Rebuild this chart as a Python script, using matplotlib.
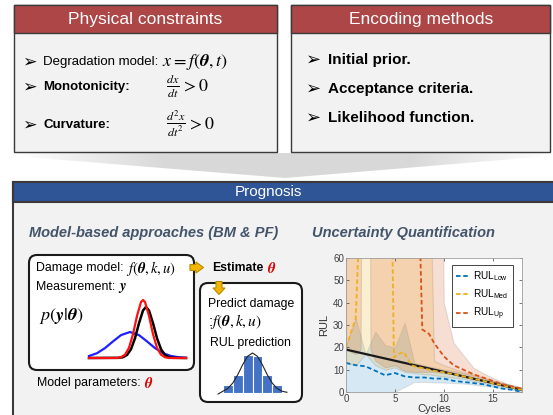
import numpy as np
import matplotlib.pyplot as plt
from matplotlib.patches import Rectangle, FancyBboxPatch, Polygon
from matplotlib.font_manager import FontProperties

plt.rcParams['mathtext.fontset'] = 'stix'
plt.rcParams['font.family'] = ['Liberation Sans', 'DejaVu Sans']

W, H = 553, 415

# ---- RUL chart data ----
cycles = list(range(19))
truth_x = [0, 18]
truth_y = [19, 1]
rul_low = [13, 12, 11.5, 9.5, 7.5, 8.5, 7, 6.5, 6.5, 6, 6, 5, 4.5, 4, 3.5, 2.5, 1.5, 1, 0]
med_x = [0, 1, 1.4, 4.7, 4.9, 5.4, 5.9, 6.7, 7, 8, 9, 10, 11, 12, 13, 14, 15, 16, 17, 18]
rul_med = [20, 33, 80, 80, 15.5, 17, 18, 12, 11.5, 10.5, 9.5, 8.8, 8, 7, 6, 5, 4, 3, 2, 1]
up_x = [7.5, 7.8, 8.5, 9, 10, 11, 12, 13, 14, 15, 16, 17, 18]
rul_up = [80, 28, 26, 22, 16, 12, 10, 8, 6.5, 5, 3.5, 2.5, 1.5]

low_band_lo = [0, 0, 0, 0, 0, 0, 2.3, 4.5, 4.5, 4.3, 4.2, 4, 3.8, 3.3, 2.8, 2.3, 1.7, 1, 0.3]
low_band_hi = [21, 33, 17, 27, 21, 20, 31, 13, 12, 11, 10, 9.5, 8.5, 7.5, 6.5, 5, 4, 3, 2]

med_band_x = [0, 1, 2, 3, 4, 5, 6, 7, 8, 8.7, 9, 10, 11, 12, 13, 14, 15, 16, 17, 18]
med_band_lo = [13, 12, 17, 12, 10, 11, 9, 8.5, 8, 7.8, 7.5, 7, 6.5, 6, 5, 4, 3.2, 2.4, 1.6, 0.8]
med_band_hi = [75, 75, 75, 75, 75, 75, 75, 75, 75, 75, 14, 12, 10.5, 9, 8, 6.5, 5.2, 4, 3, 2]

up_band_x = [0, 1, 1.5, 1.55, 2.45, 2.5, 3, 4, 5, 6, 7, 8, 9, 9.9, 10, 11, 12, 13, 14, 15, 16, 17, 18]
up_band_lo = [19, 17, 19, 75, 75, 19, 14, 11, 12, 9.5, 9, 9, 9, 8.5, 8.5, 8, 7, 6, 5, 4, 3, 2, 1.5]
up_band_hi = [75, 75, 75, 75, 75, 75, 75, 75, 75, 75, 75, 75, 75, 75, 40, 22, 16.5, 11, 8.5, 6.3, 4.5, 2.7, 1.5]

# ---- likelihood sketch ----
blue_x = [0, 8, 16, 24, 32, 41, 50, 58, 66, 74, 82, 90, 97]
blue_y = [2, 4.8, 9.9, 16.6, 22.9, 26, 22.9, 16.6, 9.9, 4.8, 2, 0.7, 0.2]
red_x = [0, 28, 32, 36, 40, 44, 48, 52, 54, 56, 60, 64, 68, 72, 76, 80, 97]
red_y = [0, 0, 0.8, 3.3, 10.2, 23.8, 42.1, 56, 58, 56, 42.1, 23.8, 10.2, 3.3, 0.8, 0, 0]
black_x = [0, 30, 34, 38, 42, 46, 50, 54, 57, 60, 64, 68, 72, 76, 80, 84, 97]
black_y = [0, 0.2, 0.8, 3, 8.8, 19.8, 34.8, 47.5, 51, 47.5, 34.8, 19.8, 8.8, 3, 0.8, 0.2, 0]

# ---- RUL histogram sketch ----
hist_bins = [0, 1, 2, 3, 4, 5]
hist_counts = [7.7, 18, 38, 37, 18, 7.7]
fit_x = [-1.0, -0.5, 0, 0.5, 1, 1.5, 2, 2.5, 3, 3.5, 4, 4.5, 5, 5.5, 6]
fit_y = [-1, 1.8, 4.6, 10, 18.3, 28.3, 36.7, 40, 36.7, 28.3, 18.3, 10, 4.6, 1.8, 0.7]


def px_axes(x0, y0, x1, y1):
    return fig.add_axes([x0 / W, 1 - y1 / H, (x1 - x0) / W, (y1 - y0) / H])


fig = plt.figure(figsize=(W / 100, H / 100), dpi=100)
ax = fig.add_axes([0, 0, 1, 1])
ax.axis('off')
renderer = fig.canvas.get_renderer()

# grey chevron between the top boxes and the prognosis box
chev = Polygon([(14, 153), (550, 153), (550, 156), (285, 178), (14, 156)],
               closed=True, facecolor='none', edgecolor='none')
ax.add_patch(chev)
xs = np.linspace(0, 536, 300)
alpha = np.clip(np.minimum(xs / 150, (536 - xs) / 140), 0, 1)
img = np.zeros((1, 300, 4))
img[..., :3] = 0.85
img[0, :, 3] = alpha
im = ax.imshow(img, extent=(14, 550, 178, 153), aspect='auto', zorder=0.5)
im.set_clip_path(chev)
ax.set_xlim(0, W)
ax.set_ylim(H, 0)


def header_box(x0, y0, w, h, hh, color, lw=1.0):
    ax.add_patch(Rectangle((x0, y0), w, h, facecolor='#f2f2f2', edgecolor='#3a3a3a', lw=lw, zorder=1))
    ax.add_patch(Rectangle((x0, y0), w, hh, facecolor=color, edgecolor='#3a3a3a', lw=lw, zorder=2))


def chain(t, y, s, gap=3, **kw):
    # put a text right after another one
    bb = t.get_window_extent(renderer)
    x = ax.transData.inverted().transform((bb.x1, 0))[0]
    return ax.text(x + gap, y, s, va='center', zorder=4, **kw)


header_box(14, 5, 263, 147, 28, '#ad4647')
ax.text(145, 19.5, 'Physical constraints', color='white', fontsize=12.5, ha='center', va='center', zorder=3)
header_box(291, 5, 259, 147, 28, '#ad4647')
ax.text(421, 19.5, 'Encoding methods', color='white', fontsize=12.5, ha='center', va='center', zorder=3)

# left box contents
for yy in [62, 87, 125]:
    ax.text(22, yy, '➢', fontsize=12.5, va='center', zorder=3)
ax.text(43, 62, 'Degradation model:', fontsize=9.5, va='center', zorder=3)
ax.text(162, 62, r'$x = f(\boldsymbol{\theta},t)$', fontsize=13, va='center', zorder=3)
ax.text(43, 87, 'Monotonicity:', fontsize=9.5, weight='bold', va='center', zorder=3)
t = ax.text(166, 86, r'$\frac{dx}{dt}$', fontsize=12.5, va='center', zorder=3)
chain(t, 86, r'$> 0$', gap=1, fontsize=13)
ax.text(43, 125, 'Curvature:', fontsize=9.5, weight='bold', va='center', zorder=3)
t = ax.text(166, 124, r'$\frac{d^2x}{dt^2}$', fontsize=12.5, va='center', zorder=3)
chain(t, 124, r'$> 0$', gap=1, fontsize=13)

# right box contents
for yy, s in zip([60, 89, 118], ['Initial prior.', 'Acceptance criteria.', 'Likelihood function.']):
    ax.text(306, yy, '➢', fontsize=13, va='center', zorder=3)
    ax.text(328, yy, s, fontsize=11, weight='bold', va='center', zorder=3)

# prognosis box
header_box(13, 182, 600, 300, 20, '#2f5597', lw=1.5)
ax.text(268, 192, 'Prognosis', color='white', fontsize=11, ha='center', va='center', zorder=3)
ax.text(29, 233, 'Model-based approaches (BM & PF)', fontsize=10.5, style='italic', weight='bold',
        color='#44546a', va='center', zorder=3)
ax.text(312, 233, 'Uncertainty Quantification', fontsize=10.5, style='italic', weight='bold',
        color='#44546a', va='center', zorder=3)

# model box
ax.add_patch(FancyBboxPatch((29, 255), 165, 115, boxstyle='round,pad=0,rounding_size=8',
                            facecolor='white', edgecolor='#1a1a1a', lw=1.5, zorder=3))
t = ax.text(36, 268, 'Damage model:', fontsize=8.9, va='center', zorder=4)
chain(t, 268, r'$f(\boldsymbol{\theta},k,u)$', fontsize=10.5)
t = ax.text(36, 287, 'Measurement:', fontsize=8.9, va='center', zorder=4)
chain(t, 288, r'$\boldsymbol{y}$', fontsize=10.5)
ax.text(39, 316, r'$p(\boldsymbol{y}|\boldsymbol{\theta})$', fontsize=13, va='center', zorder=4)
t = ax.text(37, 383, 'Model parameters:', fontsize=8.9, va='center', zorder=4)
chain(t, 383, r'$\boldsymbol{\theta}$', fontsize=10.5, color='#e00000')

# yellow arrows
arrow_kw = dict(closed=True, facecolor='#f2b600', edgecolor='#b88a00', lw=0.8, zorder=4)
ax.add_patch(Polygon([(190, 264.5), (196, 264.5), (196, 262), (203.5, 267.5), (196, 273),
                      (196, 270.5), (190, 270.5)], **arrow_kw))
ax.add_patch(Polygon([(216, 281.5), (222, 281.5), (222, 288), (225, 288), (219, 294.5),
                      (213, 288), (216, 288)], **arrow_kw))
t = ax.text(212, 268, 'Estimate', fontsize=8.8, weight='bold', va='center', zorder=4)
chain(t, 268, r'$\boldsymbol{\theta}$', gap=4, fontsize=10.5, color='#e00000')

# prediction box
ax.add_patch(FancyBboxPatch((200, 283), 102, 119, boxstyle='round,pad=0,rounding_size=8',
                            facecolor='white', edgecolor='#1a1a1a', lw=1.5, zorder=3))
ax.text(208, 304, 'Predict damage', fontsize=8.8, va='center', zorder=4)
ax.text(208, 321, r':$f(\boldsymbol{\theta},k,u)$', fontsize=11, va='center', zorder=4)
ax.text(250, 343, 'RUL prediction', fontsize=8.8, ha='center', va='center', zorder=4)

# likelihood curves
ax_g = px_axes(89, 298, 186, 358)
ax_g.plot(blue_x, blue_y, color='#1f1fff', lw=1.6, clip_on=False)
ax_g.plot(black_x, black_y, color='black', lw=1.8, clip_on=False)
ax_g.plot(red_x, red_y, color='#ff1010', lw=1.6, clip_on=False)
ax_g.set_xlim(0, 97)
ax_g.set_ylim(0, 60)
ax_g.axis('off')

# histogram
ax_h = px_axes(223, 353, 282, 393)
ax_h.bar(hist_bins, hist_counts, width=1, color='#4472c4', edgecolor='white', lw=0.8)
ax_h.plot(fit_x, fit_y, color='#222222', lw=0.8, clip_on=False)
ax_h.set_xlim(-0.5, 5.5)
ax_h.set_ylim(0, 40)
ax_h.axis('off')

# RUL chart
c_low, c_med, c_up = '#0072bd', '#edb120', '#d95319'
ac = px_axes(346, 258, 522, 392)
ac.fill_between(cycles, low_band_lo, low_band_hi, facecolor=c_low, alpha=0.16,
                edgecolor='#707070', lw=0.8)
ac.fill_between(med_band_x, med_band_lo, med_band_hi, facecolor=c_med, alpha=0.2,
                edgecolor='#707070', lw=0.8)
ac.fill_between(up_band_x, up_band_lo, up_band_hi, facecolor=c_up, alpha=0.19,
                edgecolor='#707070', lw=0.8)
ac.plot(truth_x, truth_y, color='#1a1a1a', lw=1.6)
ls = (0, (2.5, 1.5))
l1, = ac.plot(cycles, rul_low, color=c_low, lw=1.3, ls=ls)
l2, = ac.plot(med_x, rul_med, color=c_med, lw=1.3, ls=ls)
l3, = ac.plot(up_x, rul_up, color=c_up, lw=1.3, ls=ls)
ac.set_xlim(0, 18)
ac.set_ylim(0, 60)
ac.set_xticks([0, 5, 10, 15])
ac.set_yticks([0, 10, 20, 30, 40, 50, 60])
ac.tick_params(direction='in', top=True, right=True, labelsize=7, colors='#404040',
               length=2.5, width=0.5, pad=1.5)
for sp in ac.spines.values():
    sp.set_color('#a0a0a0')
    sp.set_linewidth(0.6)
ac.set_xlabel('Cycles', fontsize=8, color='#333333', labelpad=0)
ac.set_ylabel('RUL', fontsize=8, color='#333333', labelpad=3)
prop = FontProperties(family='Liberation Sans', size=7.2, math_fontfamily='dejavusans')
leg = ac.legend([l1, l2, l3],
                [r'RUL$_\mathregular{Low}$', r'RUL$_\mathregular{Med}$', r'RUL$_\mathregular{Up}$'],
                loc='upper right', bbox_to_anchor=(0.95, 0.95), prop=prop, fancybox=False,
                framealpha=1, edgecolor='#262626', handlelength=1.3, handletextpad=0.4,
                labelspacing=0.45, borderpad=0.45, borderaxespad=0)
leg.get_frame().set_linewidth(0.6)

fig.savefig('out.png', dpi=100)
